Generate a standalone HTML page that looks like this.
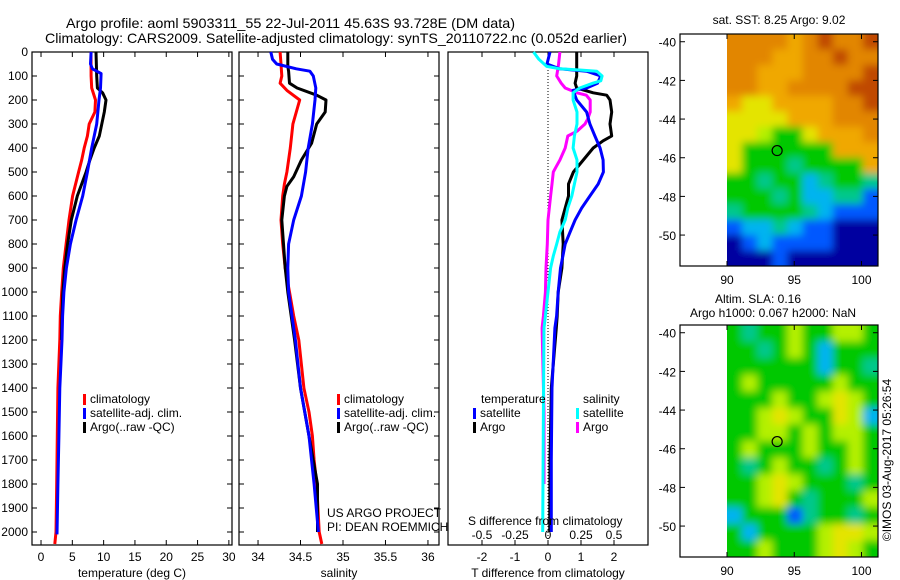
<!DOCTYPE html>
<html><head><meta charset="utf-8"><style>
html,body{margin:0;padding:0;background:#fff;}
svg{display:block;font-family:"Liberation Sans",Arial,sans-serif;}
</style></head><body>
<svg id="fig" width="900" height="580" viewBox="0 0 900 580" xmlns="http://www.w3.org/2000/svg">
<defs>
<filter id="blur" x="0" y="0" width="1" height="1"><feGaussianBlur stdDeviation="4"/></filter>
<clipPath id="clipTop"><rect x="727" y="34" width="151" height="232"/></clipPath>
<clipPath id="clipBot"><rect x="727" y="325" width="151" height="232"/></clipPath>
</defs>
<text x="66" y="28" font-size="14" textLength="449" lengthAdjust="spacingAndGlyphs">Argo profile: aoml 5903311_55 22-Jul-2011 45.63S 93.728E (DM data)</text>
<text x="45" y="43" font-size="14" textLength="582" lengthAdjust="spacingAndGlyphs">Climatology: CARS2009. Satellite-adjusted climatology: synTS_20110722.nc (0.052d earlier)</text>
<g id="g"></g>
</svg>
<script>
// ---- data (depth in m) ----
const tClimD = [0,100,150,200,250,300,350,400,450,500,600,700,800,900,1000,1100,1200,1400,1600,1800,2000,2050];
const tClimV = [7.98,8.0,8.1,8.7,8.6,7.7,7.4,6.9,6.5,6.0,5.05,4.47,4.0,3.56,3.3,3.08,3.0,2.7,2.6,2.5,2.4,2.2];
const tSatD = [0,50,70,90,150,200,300,400,500,600,700,800,900,1000,1100,1200,1400,1600,1800,2010];
const tSatV = [8.0,7.9,8.2,9.6,9.5,9.26,8.9,8.1,7.4,6.65,5.6,4.7,4.05,3.65,3.45,3.35,3.0,2.85,2.7,2.55];
const tArgoD = [0,100,150,170,200,250,300,350,400,450,500,600,700,800,900,1000,1100,1200];
const tArgoV = [8.78,8.9,9.0,9.84,10.37,10.1,9.7,9.3,8.5,7.8,7.2,5.8,4.84,4.25,3.8,3.5,3.35,3.25];

const sClimD = [0,50,100,130,160,200,250,300,400,500,550,600,700,800,900,1000,1100,1200,1400,1500,1600,1700,1800,2000,2050];
const sClimV = [34.26,34.27,34.28,34.26,34.34,34.49,34.45,34.41,34.38,34.34,34.31,34.29,34.27,34.29,34.32,34.37,34.42,34.48,34.54,34.6,34.64,34.66,34.69,34.72,34.75];
const sSatD = [0,30,50,70,80,100,150,200,300,400,500,600,700,800,900,1000,1100,1200,1400,1600,1800,2000];
const sSatV = [34.15,34.17,34.22,34.45,34.61,34.65,34.68,34.67,34.64,34.59,34.56,34.51,34.42,34.36,34.35,34.36,34.4,34.44,34.5,34.6,34.66,34.71];
const sArgoD = [0,60,80,130,150,180,200,250,300,380,450,520,560,600,700,800,900,1000,1100,1200,1400,1600,1800,2000];
const sArgoV = [34.35,34.35,34.36,34.37,34.46,34.69,34.8,34.79,34.69,34.63,34.51,34.42,34.34,34.31,34.28,34.3,34.32,34.35,34.39,34.43,34.5,34.6,34.7,34.7];

const dtSatD = [0,50,70,80,100,130,150,160,200,250,300,350,400,450,500,550,600,650,700,750,800,850,900,1000,1100,1150,1400,1700,2000];
const dtSatV = [0.06,-0.03,0.35,1.17,1.6,1.5,1.17,0.76,0.87,1.17,1.27,1.42,1.58,1.67,1.68,1.52,1.27,1.02,0.82,0.67,0.52,0.45,0.38,0.31,0.26,0.21,0.12,0.1,0.1];
const dtArgoD = [0,100,130,150,170,180,200,250,300,350,370,400,450,500,550,600,650,700,800,900,1000,1100,1150,1400,1700,2000];
const dtArgoV = [0.87,0.87,0.82,0.87,1.37,1.78,1.88,1.93,1.88,1.93,1.67,1.37,1.07,0.77,0.62,0.62,0.52,0.42,0.46,0.42,0.31,0.28,0.25,0.1,0.06,0.05];
const dsSatD = [0,30,60,70,75,80,100,120,130,150,170,200,250,300,350,400,450,500,550,600,650,700,750,800,850,900,1000,1100,1150,1500,2000];
const dsSatV = [-0.11,-0.07,-0.01,0.09,0.24,0.37,0.41,0.4,0.34,0.24,0.19,0.19,0.22,0.22,0.2,0.19,0.22,0.22,0.2,0.18,0.15,0.13,0.09,0.066,0.04,0.02,0,-0.02,-0.03,-0.035,-0.04];
const dsArgoD = [0,50,100,130,150,170,180,200,250,280,300,330,350,400,450,480,500,550,600,700,800,900,1000,1100,1150,1500,1800];
const dsArgoV = [0.09,0.08,0.066,0.1,0.13,0.22,0.29,0.32,0.32,0.3,0.28,0.22,0.15,0.13,0.09,0.06,0.04,0.03,0.02,0,-0.005,-0.015,-0.02,-0.035,-0.045,-0.03,-0.03];

const tTicks = [0,5,10,15,20,25,30];
const sTicks = [34,34.5,35,35.5,36];
const sTickLabels = ['34','34.5','35','35.5','36'];
const dtTicks = [-2,-1,0,1,2];
const dsTicks = [-0.5,-0.25,0,0.25,0.5];
const dsTickLabels = ['-0.5','-0.25','0','0.25','0.5'];
const depthTicks = [0,100,200,300,400,500,600,700,800,900,1000,1100,1200,1300,1400,1500,1600,1700,1800,1900,2000];
const latTicks = [-40,-42,-44,-46,-48,-50];
const lonTicks = [90,95,100];

const sstGrid = [
"OOOOoOBOOB","OOOooOOBOO","OOoooOOOOB","OOooOOOOBB","oYYooooOOB","YYYYoooOOO","YYyGGYoooO",
"YGGGGGGooo","YGGGgGGGGo","GGgGGCgGGg","GGGgGCCggL","gGGGGgCLLL","LCCgCLLDDD","DLCLLLLDDD","DDDLDDDDDD"];
const slaGrid = [
"GgGGyGGyyG","GGgGyGCGGG","GGGGGGCGGg","GyGGGGGyGG","GGGyGGyYyG","GGyYyGGYyC","GGyyGyGyyG",
"GyGGGyGGyG","GgGyGGgGyG","GGyYyGGGgG","GGyYGgGGGy","CGGGLgGGgG","GCGGGGyYYy","GGyGGGyYyG"];

// ---- helpers ----
const NS='http://www.w3.org/2000/svg';
const G=document.getElementById('g');
function mk(tag,attrs,parent){const e=document.createElementNS(NS,tag);for(const k in attrs)e.setAttribute(k,attrs[k]);(parent||G).appendChild(e);return e;}
const yD = d => 52 + d*0.24;
const P1={x0:32,x1:232,min:-1.44,max:30.5};
const P2={x0:239,x1:439,min:33.776,max:36.13};
const P3={x0:448,x1:648,min:-3.03,max:3.03};
const xs=(P,v)=>P.x0+(v-P.min)/(P.max-P.min)*(P.x1-P.x0);
const xT=v=>xs(P1,v), xS=v=>xs(P2,v), xDT=v=>xs(P3,v), xDS=v=>xs(P3,v*4);
const TOP=52,BOT=545;

function text(str,x,y,anchor,size,name){const t=mk('text',{x:x,y:y,'font-size':size||12,'text-anchor':anchor||'start'});t.textContent=str;return t;}
function frame(P,name){const r=mk('rect',{x:P.x0,y:TOP,width:P.x1-P.x0,height:BOT-TOP,fill:'none',stroke:'#000','stroke-width':1.2});}
function line(D,V,xf,color,name){
  const pts=D.map((d,i)=>xf(V[i]).toFixed(1)+','+yD(d).toFixed(1));
  const p=mk('polyline',{points:pts.join(' '),fill:'none',stroke:color,'stroke-width':3,'stroke-linejoin':'round'});
  
  
}
function vticks(P,labels){
  depthTicks.forEach(d=>{const y=yD(d);
    mk('line',{x1:P.x0,y1:y,x2:P.x0+5,y2:y,stroke:'#000'});
    mk('line',{x1:P.x1,y1:y,x2:P.x1-5,y2:y,stroke:'#000'});
    if(labels){text(String(d),P.x0-4,y+4,'end',12,'depth-tick-label');}
  });
}
function hticks(vals,xf,labels,y,top){
  vals.forEach((v,i)=>{const x=xf(v);
    mk('line',{x1:x,y1:BOT,x2:x,y2:BOT-5,stroke:'#000'});
    if(top)mk('line',{x1:x,y1:TOP,x2:x,y2:TOP+5,stroke:'#000'});
    if(labels)text(labels[i],x,y,'middle',12,'x-tick-label');
  });
}

// panel 1
frame(P1,'temperature-panel');vticks(P1,true);
hticks(tTicks,xT,tTicks.map(String),561,true);
text('temperature (deg C)',132,577,'middle',12,'temperature-axis-title');
line(tClimD,tClimV,xT,'#ff0000','temp-climatology-line');
line(tArgoD,tArgoV,xT,'#000000','temp-argo-line');
line(tSatD,tSatV,xT,'#0000ff','temp-satellite-line');
// panel 2
frame(P2,'salinity-panel');vticks(P2,false);
hticks(sTicks,xS,sTickLabels,561,true);
text('salinity',339,577,'middle',12,'salinity-axis-title');
line(sClimD,sClimV,xS,'#ff0000','sal-climatology-line');
line(sArgoD,sArgoV,xS,'#000000','sal-argo-line');
line(sSatD,sSatV,xS,'#0000ff','sal-satellite-line');
// panel 3
frame(P3,'difference-panel');
hticks(dtTicks,xDT,dtTicks.map(String),561,true);
text('T difference from climatology',548,577,'middle',12,'t-diff-axis-title');
mk('line',{x1:xDT(0),y1:TOP,x2:xDT(0),y2:BOT,stroke:'#000','stroke-dasharray':'1,2'});
line(dsArgoD,dsArgoV,xDS,'#ff00ff','sdiff-argo-line');
line(dtArgoD,dtArgoV,xDT,'#000000','tdiff-argo-line');
line(dtSatD,dtSatV,xDT,'#0000ff','tdiff-satellite-line');
line(dsSatD,dsSatV,xDS,'#00ffff','sdiff-satellite-line');
text('S difference from climatology',468,525,'start',12,'s-diff-axis-title');
dsTicks.forEach((v,i)=>text(dsTickLabels[i],xDS(v),539,'middle',12,'s-diff-tick-label'));

// legends
function leg(x,y,color,label,name){const r=mk('rect',{x:x,y:y-9,width:3,height:11,fill:color});text(label,x+7,y,'start',12,name);}
leg(83,403,'#ff0000','climatology','legend-climatology');
leg(83,417,'#0000ff','satellite-adj. clim.','legend-satellite');
leg(83,431,'#000','Argo(..raw -QC)','legend-argo');
leg(337,403,'#ff0000','climatology','legend2-climatology');
leg(337,417,'#0000ff','satellite-adj. clim.','legend2-satellite');
leg(337,431,'#000','Argo(..raw -QC)','legend2-argo');
text('temperature',481,403,'start',12,'legend-temperature-header');
leg(473,417,'#0000ff','satellite','legend-t-satellite');
leg(473,431,'#000','Argo','legend-t-argo');
text('salinity',583,403,'start',12,'legend-salinity-header');
leg(576,417,'#00ffff','satellite','legend-s-satellite');
leg(576,431,'#ff00ff','Argo','legend-s-argo');
text('US ARGO PROJECT',327,517,'start',12,'project-credit');
text('PI: DEAN ROEMMICH',327,531,'start',12,'pi-credit');

// maps
const COL={B:'#c04a00',O:'#e28600',o:'#f0a800',Y:'#e4e400',y:'#b4f000',G:'#00c800',g:'#00c88c',C:'#00b4f0',L:'#0058ff',D:'#0000a0'};
function map(grid,top,bot,clip,name){
  const lat0=-39.6,lat1=-51.6;
  const yL=v=>top+(v-lat0)/(lat1-lat0)*(bot-top);
  const xL=v=>727+(v-90)*13.45;
  const cg=mk('g',{'clip-path':'url(#'+clip+')'});
  const fg=mk('g',{filter:'url(#blur)'},cg);
  const rows=grid.length,cols=grid[0].length,cw=(878-727)/cols,ch=(bot-top)/rows;
  for(let r=-1;r<=rows;r++)for(let c=-1;c<=cols;c++){
    const rr=Math.min(rows-1,Math.max(0,r)),cc=Math.min(cols-1,Math.max(0,c));
    mk('rect',{x:727+c*cw,y:top+r*ch,width:cw+0.5,height:ch+0.5,fill:COL[grid[rr][cc]]},fg);
  }
  const b=mk('rect',{x:680,y:top,width:198,height:bot-top,fill:'none',stroke:'#000','stroke-width':1.2});
  
  latTicks.forEach(v=>{const y=yL(v);mk('line',{x1:680,y1:y,x2:685,y2:y,stroke:'#000'});mk('line',{x1:878,y1:y,x2:873,y2:y,stroke:'#000'});text(String(v),676,y+5,'end',12,name+'-lat-label');});
  lonTicks.forEach(v=>{const x=xL(v);mk('line',{x1:x,y1:bot,x2:x,y2:bot-5,stroke:'#000'});mk('line',{x1:x,y1:top,x2:x,y2:top+5,stroke:'#000'});text(String(v),x,bot+18,'middle',12,name+'-lon-label');});
  const c=mk('circle',{cx:xL(93.728),cy:yL(-45.63),r:5,fill:'none',stroke:'#000','stroke-width':1.2});
  
}
map(sstGrid,34,266,'clipTop','sst-map');
text('sat. SST: 8.25 Argo: 9.02',779,24,'middle',12,'sst-map-title');
map(slaGrid,325,557,'clipBot','sla-map');
text('Altim. SLA: 0.16',758,303,'middle',12,'sla-map-title');
text('Argo h1000: 0.067 h2000: NaN',773,317,'middle',12,'sla-map-subtitle');
const ts=text('©IMOS 03-Aug-2017 05:26:54',0,0,'middle',12,'timestamp');
ts.setAttribute('transform','translate(891,460) rotate(-90)');
</script>
</body></html>
